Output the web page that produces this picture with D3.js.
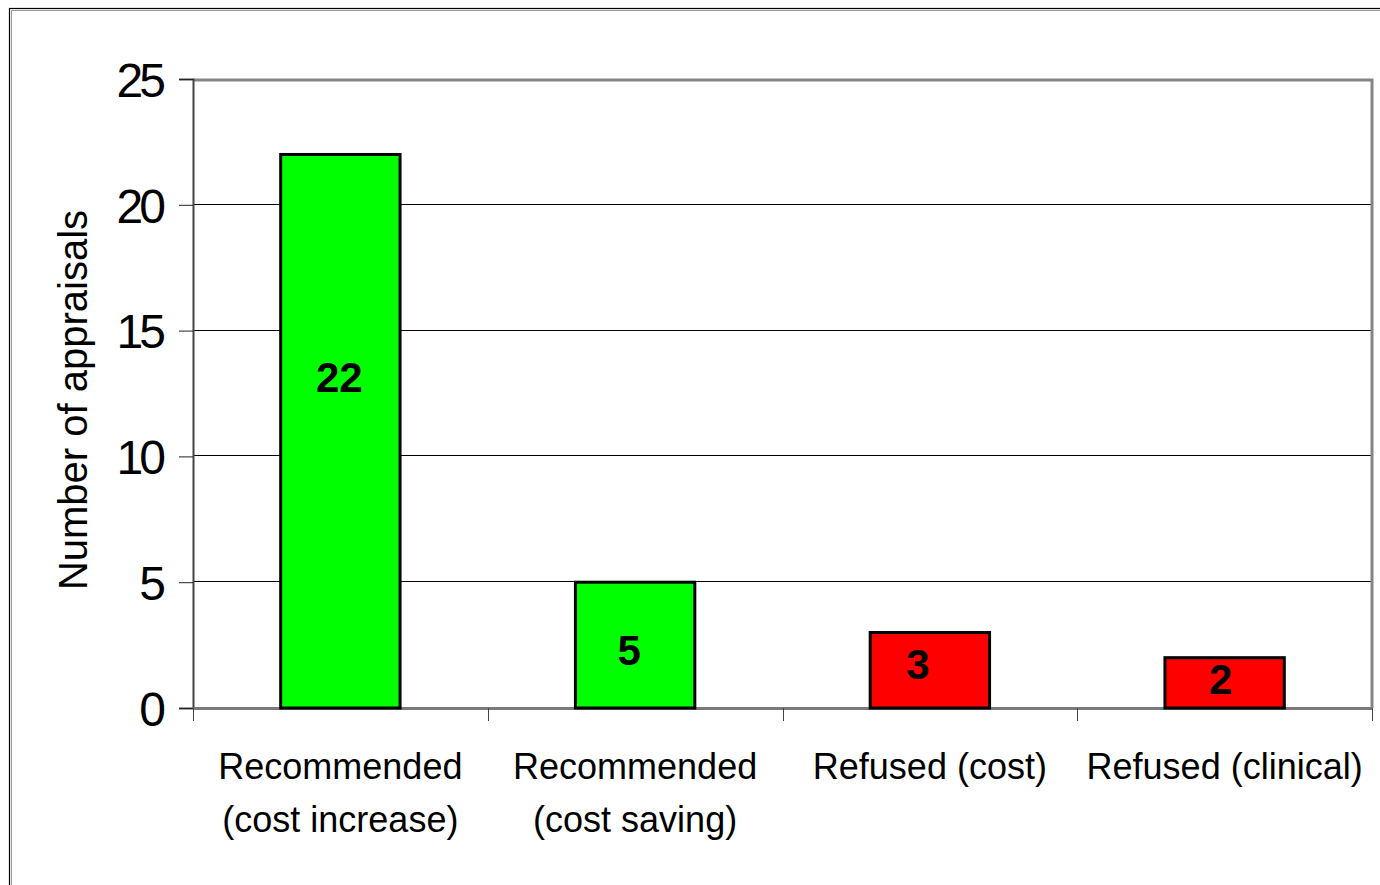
<!DOCTYPE html>
<html>
<head>
<meta charset="utf-8">
<script src="https://cdn.jsdelivr.net/npm/d3@7"></script>
<style>
  html, body { margin: 0; padding: 0; background: #fff; }
  svg { display: block; font-family: "Liberation Sans", Arial, Helvetica, sans-serif; }
</style>
</head>
<body>
<svg id="chart" width="1380" height="885"></svg>
<script>
// Appraisal outcomes
const categories = [
  "Recommended (cost increase)",
  "Recommended (cost saving)",
  "Refused (cost)",
  "Refused (clinical)"
];
const categoryLines = [
  ["Recommended", "(cost increase)"],
  ["Recommended", "(cost saving)"],
  ["Refused (cost)"],
  ["Refused (clinical)"]
];
const counts = [22, 5, 3, 2];
const barColors = ["#00ff00", "#00ff00", "#ff0000", "#ff0000"];
const yTicks = [0, 5, 10, 15, 20, 25];
const yTitle = "Number of appraisals";

const svg = d3.select("#chart");
const W = 1380, H = 885;
const plot = { left: 193, right: 1372, top: 79, bottom: 708 };

// outer frame (extends past the right and bottom edges)
svg.append("rect")
  .attr("x", 11.5).attr("y", 10.5).attr("width", W + 20).attr("height", H + 20)
  .attr("fill", "none").attr("stroke", "#9a9a9a").attr("stroke-width", 1);
svg.append("rect")
  .attr("x", 9.5).attr("y", 8.5).attr("width", W + 20).attr("height", H + 20)
  .attr("fill", "none").attr("stroke", "#000").attr("stroke-width", 1.2);

const x = d3.scaleBand()
  .domain(categories)
  .range([plot.left, plot.right])
  .paddingInner(0).paddingOuter(0);

const y = d3.scaleLinear()
  .domain([0, 25])
  .range([plot.bottom, plot.top]);

// horizontal gridlines
svg.append("g")
  .selectAll("line")
  .data(yTicks.filter(t => t > 0 && t < 25))
  .join("line")
  .attr("x1", plot.left).attr("x2", plot.right)
  .attr("y1", d => Math.round(y(d)) - 0.5).attr("y2", d => Math.round(y(d)) - 0.5)
  .attr("stroke", "#000").attr("stroke-width", 1);

// plot frame: top and right edges in grey
svg.append("path")
  .attr("d", `M${plot.left},${plot.top + 1}H${plot.right}V${plot.bottom}`)
  .attr("fill", "none").attr("stroke", "#858585").attr("stroke-width", 3);

// y axis
const yAxis = d3.axisLeft(y).tickValues(yTicks).tickSize(14).tickPadding(8);
const gy = svg.append("g")
  .attr("transform", `translate(${plot.left},0)`)
  .call(yAxis);
gy.select(".domain").attr("stroke", "#444").attr("stroke-width", 2);
gy.selectAll(".tick line").attr("stroke", "#222").attr("stroke-width", 1);
gy.selectAll(".tick text")
  .attr("font-size", 48)
  .attr("letter-spacing", -4)
  .attr("fill", "#000")
  .attr("x", -31)
  .attr("dy", "0.36em");

// x axis
const xAxis = d3.axisBottom(x).tickSize(0).tickFormat("");
const gx = svg.append("g")
  .attr("transform", `translate(0,${plot.bottom})`)
  .call(xAxis);
gx.select(".domain").attr("stroke", "#7a7a7a").attr("stroke-width", 3);
gx.selectAll(".tick").remove();

// category boundary ticks below the axis
const bounds = categories.map(c => x(c)).concat([plot.right]);
svg.append("g")
  .selectAll("line")
  .data(bounds)
  .join("line")
  .attr("x1", d => Math.round(d) + 0.5).attr("x2", d => Math.round(d) + 0.5)
  .attr("y1", plot.bottom).attr("y2", plot.bottom + 13)
  .attr("stroke", "#444").attr("stroke-width", 1);

// bars
const barW = x.bandwidth() * 0.405;
svg.append("g")
  .selectAll("rect")
  .data(counts)
  .join("rect")
  .attr("x", (d, i) => x(categories[i]) + x.bandwidth() / 2 - barW / 2)
  .attr("y", d => y(d))
  .attr("width", barW)
  .attr("height", d => y(0) - y(d))
  .attr("fill", (d, i) => barColors[i])
  .attr("stroke", "#000")
  .attr("stroke-width", 3);

// value labels inside bars
const labelShiftY = [-54, 5, -6, -4];
const labelShiftX = [-1, -6, -12, -4];
svg.append("g")
  .selectAll("text")
  .data(counts)
  .join("text")
  .attr("x", (d, i) => x(categories[i]) + x.bandwidth() / 2 + labelShiftX[i])
  .attr("y", (d, i) => y(d / 2) + labelShiftY[i])
  .attr("dy", "0.36em")
  .attr("text-anchor", "middle")
  .attr("font-size", 42)
  .attr("font-weight", "bold")
  .attr("fill", "#000")
  .text(d => d);

// category labels
const catG = svg.append("g");
categoryLines.forEach((lines, i) => {
  const cx = x(categories[i]) + x.bandwidth() / 2;
  const t = catG.append("text")
    .attr("x", cx)
    .attr("y", 779)
    .attr("text-anchor", "middle")
    .attr("font-size", 36)
    .attr("fill", "#000");
  lines.forEach((line, j) => {
    t.append("tspan")
      .attr("x", cx)
      .attr("dy", j === 0 ? 0 : 53)
      .text(line);
  });
});

// y axis title
svg.append("text")
  .attr("transform", "translate(87,400) rotate(-90)")
  .attr("text-anchor", "middle")
  .attr("font-size", 40)
  .attr("fill", "#000")
  .text(yTitle);
</script>
</body>
</html>
